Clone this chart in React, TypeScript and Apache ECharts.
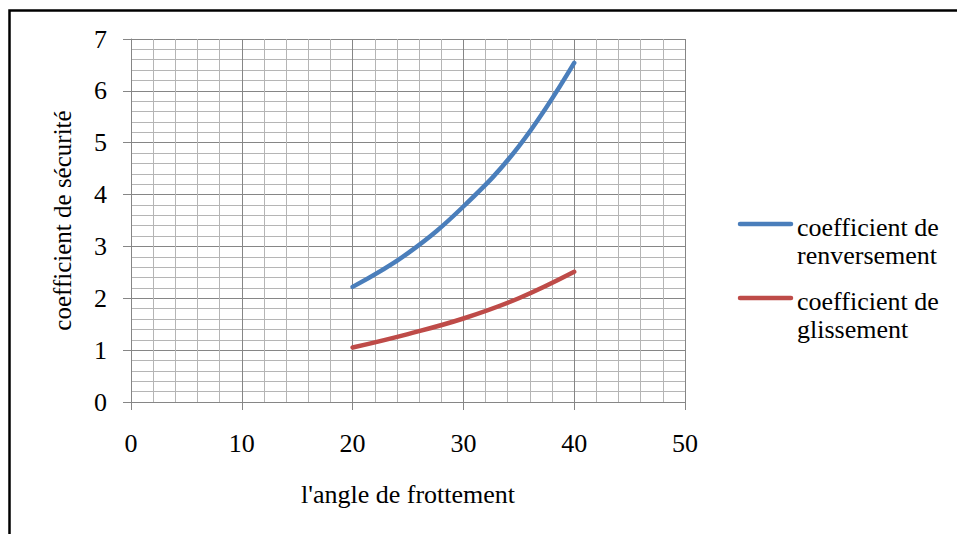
import React, { useEffect, useRef } from "react";
import * as echarts from "echarts";

const angles = [20, 25, 30, 35, 40];
const renversement = [2.22, 2.87, 3.77, 4.93, 6.54];
const glissement = [1.05, 1.31, 1.61, 2.0, 2.51];
const seriesNames = ["coefficient de\nrenversement", "coefficient de\nglissement"];
const seriesColors = ["#4A7EBB", "#BE4B48"];
const xTitle = "l'angle de frottement";
const yTitle = "coefficient de sécurité";

const FONT = "Liberation Serif";
const MAJOR = "#868686";
const MINOR = "#b5b5b5";

export default function App() {
  const ref = useRef<HTMLDivElement>(null);
  useEffect(() => {
    if (!ref.current) return;
    const chart = echarts.init(ref.current, undefined, { renderer: "svg" });
    const legendTops = [224, 298];
    const legendGraphics: any[] = [];
    seriesNames.forEach((name, i) => {
      const cy = legendTops[i];
      legendGraphics.push({
        type: "line",
        shape: { x1: 740, y1: cy, x2: 791, y2: cy },
        style: { stroke: seriesColors[i], lineWidth: 4.5, lineCap: "round" },
        silent: true,
      });
      legendGraphics.push({
        type: "text",
        x: 797,
        y: cy - 11,
        style: {
          text: name,
          fontFamily: FONT,
          fontSize: 26,
          lineHeight: 28,
          fill: "#000",
          verticalAlign: "top",
          align: "left",
        },
        silent: true,
      });
    });
    chart.setOption({
      animation: false,
      backgroundColor: "#fff",
      textStyle: { fontFamily: FONT },
      grid: { left: 131, right: 272, top: 39, bottom: 132, containLabel: false },
      graphic: [
        {
          type: "rect",
          shape: { x: 9.5, y: 10.5, width: 1200, height: 800 },
          style: { fill: "none", stroke: "#000", lineWidth: 2.5 },
          silent: true,
          z: 100,
        },
        ...legendGraphics,
      ],
      xAxis: {
        type: "value",
        min: 0,
        max: 50,
        interval: 10,
        name: xTitle,
        nameLocation: "middle",
        nameGap: 79,
        nameTextStyle: { fontFamily: FONT, fontSize: 26, color: "#000" },
        axisLine: { show: true, lineStyle: { color: MAJOR, width: 1 } },
        axisTick: { show: true, inside: false, length: 8, lineStyle: { color: MAJOR } },
        axisLabel: { fontFamily: FONT, fontSize: 26, color: "#000", margin: 28 },
        splitLine: { show: true, lineStyle: { color: MAJOR, width: 1 } },
        minorTick: { show: false, splitNumber: 5 },
        minorSplitLine: { show: true, lineStyle: { color: MINOR, width: 1 } },
      },
      yAxis: {
        type: "value",
        min: 0,
        max: 7,
        interval: 1,
        name: yTitle,
        nameLocation: "middle",
        nameGap: 56,
        nameTextStyle: { fontFamily: FONT, fontSize: 25, color: "#000" },
        axisLine: { show: true, lineStyle: { color: MAJOR, width: 1 } },
        axisTick: { show: true, inside: false, length: 8, lineStyle: { color: MAJOR } },
        axisLabel: { fontFamily: FONT, fontSize: 26, color: "#000", margin: 24 },
        splitLine: { show: true, lineStyle: { color: MAJOR, width: 1 } },
        minorTick: { show: false, splitNumber: 5 },
        minorSplitLine: { show: true, lineStyle: { color: MINOR, width: 1 } },
      },
      series: [
        {
          name: seriesNames[0],
          type: "line",
          smooth: 0.4,
          showSymbol: false,
          data: angles.map((a, i) => [a, renversement[i]]),
          lineStyle: { color: seriesColors[0], width: 4.5, cap: "round" },
          itemStyle: { color: seriesColors[0] },
        },
        {
          name: seriesNames[1],
          type: "line",
          smooth: 0.4,
          showSymbol: false,
          data: angles.map((a, i) => [a, glissement[i]]),
          lineStyle: { color: seriesColors[1], width: 4.5, cap: "round" },
          itemStyle: { color: seriesColors[1] },
        },
      ],
    });
    return () => chart.dispose();
  }, []);
  return (
    <div
      ref={ref}
      style={{ position: "fixed", left: 0, top: 0, width: 957, height: 534, background: "#fff" }}
    />
  );
}
